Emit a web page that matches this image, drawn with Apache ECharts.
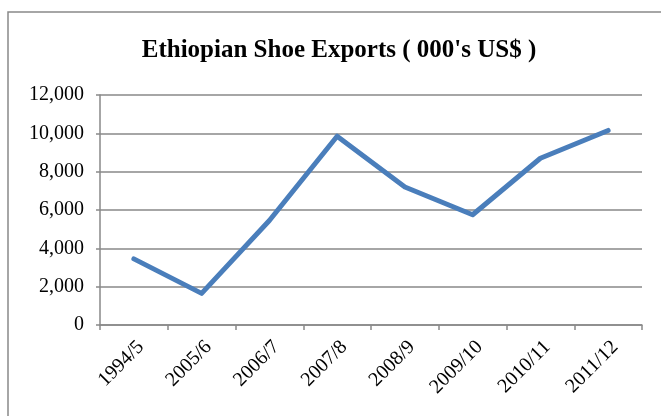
<!DOCTYPE html>
<html>
<head>
<meta charset="utf-8">
<script src="https://cdn.jsdelivr.net/npm/echarts@6/dist/echarts.min.js"></script>
<style>
  html, body { margin: 0; padding: 0; background: #fff; }
  #chart { width: 661px; height: 416px; }
</style>
</head>
<body>
<div id="chart"></div>
<script>
// Fiscal years and export values (thousand US$)
const years = ['1994/5', '2005/6', '2006/7', '2007/8', '2008/9', '2009/10', '2010/11', '2011/12'];
const exportsValues = [3450, 1650, 5450, 9850, 7200, 5750, 8700, 10150];
const yTicks = [0, 2000, 4000, 6000, 8000, 10000, 12000];

const serif = '"Liberation Serif", "Times New Roman", serif';
const gray = '#898989';

const chart = echarts.init(document.getElementById('chart'), null, { renderer: 'canvas' });

chart.setOption({
  animation: false,
  backgroundColor: '#fff',
  title: {
    text: "Ethiopian Shoe Exports ( 000's US$ )",
    left: 334,
    top: 33,
    textAlign: 'center',
    textStyle: { fontFamily: serif, fontWeight: 'bold', fontSize: 25, color: '#000' }
  },
  graphic: [{
    type: 'rect',
    shape: { x: 8, y: 12, width: 700, height: 500 },
    style: { fill: 'none', stroke: gray, lineWidth: 1.5 },
    silent: true
  }],
  grid: { left: 100, right: 19, top: 95, bottom: 91, containLabel: false },
  xAxis: {
    type: 'category',
    data: years,
    boundaryGap: true,
    axisLine: { lineStyle: { color: gray, width: 1.5 } },
    axisTick: { show: true, alignWithLabel: false, length: 5, lineStyle: { color: gray, width: 1.5 } },
    axisLabel: {
      rotate: 45,
      interval: 0,
      margin: 12,
      fontFamily: serif,
      fontSize: 20,
      color: '#000',
      verticalAlign: 'top'
    },
    splitLine: { show: false }
  },
  yAxis: {
    type: 'value',
    min: yTicks[0],
    max: yTicks[yTicks.length - 1],
    interval: 2000,
    axisLine: { show: true, lineStyle: { color: gray, width: 1.5 } },
    axisTick: { show: true, length: 4, lineStyle: { color: gray, width: 1.5 } },
    axisLabel: {
      margin: 16,
      fontFamily: serif,
      fontSize: 20,
      color: '#000',
      formatter: v => v.toLocaleString('en-US')
    },
    splitLine: { show: true, lineStyle: { color: gray, width: 1.5 } }
  },
  series: [{
    type: 'line',
    data: exportsValues,
    symbol: 'none',
    lineStyle: { color: '#4a7ebb', width: 5, cap: 'round', join: 'round' },
    itemStyle: { color: '#4a7ebb' }
  }]
});
</script>
</body>
</html>
